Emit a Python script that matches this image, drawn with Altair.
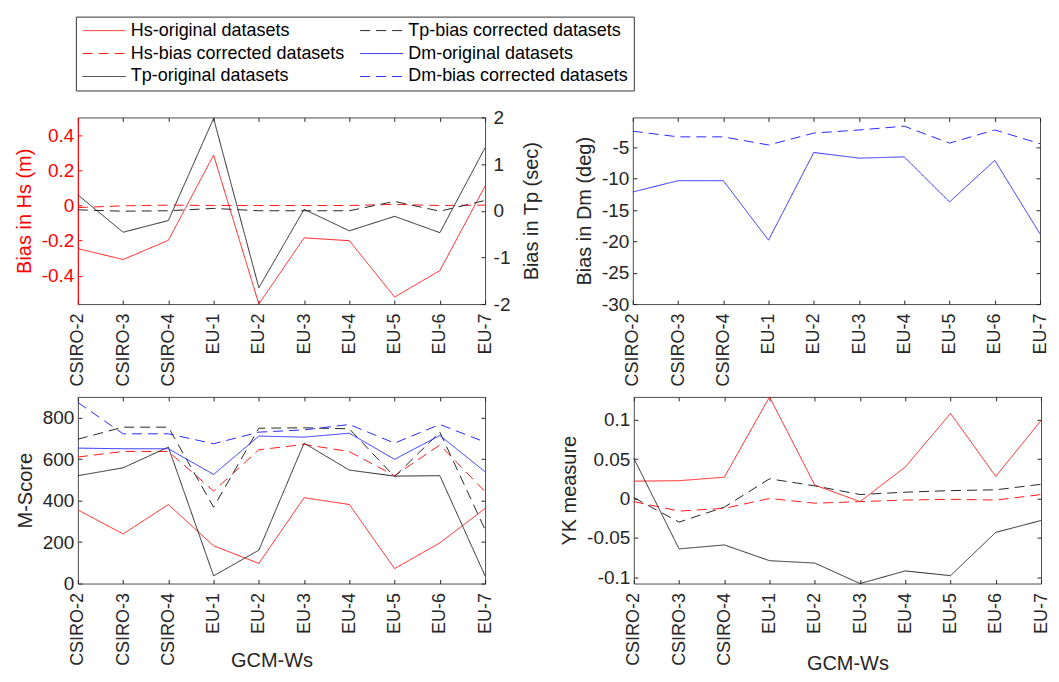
import altair as alt
import pandas as pd

# ---------------- data ----------------
gcms = ["CSIRO-2", "CSIRO-3", "CSIRO-4", "EU-1", "EU-2", "EU-3", "EU-4", "EU-5", "EU-6", "EU-7"]

HS_O = "Hs-original datasets"
HS_C = "Hs-bias corrected datasets"
TP_O = "Tp-original datasets"
TP_C = "Tp-bias corrected datasets"
DM_O = "Dm-original datasets"
DM_C = "Dm-bias corrected datasets"

# legend order (filled column by column, 2 columns)
legend_order = [HS_O, HS_C, TP_O, TP_C, DM_O, DM_C]
legend_colors = ["#ff1a1a", "#ff1a1a", "#262626", "#262626", "#2a2aff", "#2a2aff"]
legend_dashes = [[1, 0], [10, 6], [1, 0], [10, 6], [1, 0], [10, 6]]

# Panel 1: bias in Hs (m) and Tp (sec)
bias_hs_orig = [-0.245, -0.307, -0.198, 0.286, -0.56, -0.184, -0.20, -0.52, -0.37, 0.11]
bias_hs_corr = [-0.012, -0.002, 0.002, 0.0, 0.0, 0.0, 0.0, 0.006, 0.0, 0.002]
bias_tp_orig = [0.34, -0.46, -0.21, 1.98, -1.65, 0.03, -0.43, -0.12, -0.47, 1.35]
bias_tp_corr = [0.02, -0.01, 0.0, 0.05, 0.0, 0.0, 0.0, 0.2, -0.01, 0.22]

# Panel 2: bias in Dm (deg)
bias_dm_orig = [-12.1, -10.3, -10.3, -19.8, -5.8, -6.7, -6.5, -13.7, -7.05, -18.8]
bias_dm_corr = [-2.4, -3.3, -3.3, -4.6, -2.7, -2.2, -1.6, -4.3, -2.2, -4.4]

# Panel 3: M-Score
m_hs_orig = [355, 239, 381, 182, 97, 414, 381, 72, 196, 362]
m_hs_corr = [610, 637, 637, 446, 645, 671, 636, 520, 668, 443]
m_tp_orig = [520, 558, 658, 37, 161, 677, 547, 518, 520, 37]
m_tp_corr = [696, 754, 754, 368, 749, 751, 746, 515, 730, 260]
m_dm_orig = [653, 650, 650, 526, 711, 706, 725, 599, 714, 539]
m_dm_corr = [873, 722, 722, 674, 730, 741, 767, 677, 767, 682]

# Panel 4: YK measure
yk_hs_orig = [0.022, 0.0226, 0.027, 0.129, 0.017, -0.004, 0.040, 0.108, 0.028, 0.099]
yk_hs_corr = [-0.004, -0.016, -0.0125, 0.0, -0.006, -0.004, -0.002, -0.001, -0.002, 0.005]
yk_tp_orig = [0.051, -0.064, -0.059, -0.079, -0.082, -0.108, -0.092, -0.098, -0.043, -0.028]
yk_tp_corr = [0.001, -0.030, -0.011, 0.025, 0.016, 0.005, 0.008, 0.010, 0.011, 0.018]

hs_ticks = [-0.4, -0.2, 0, 0.2, 0.4]
tp_ticks = [-2, -1, 0, 1, 2]
dm_ticks = [-30, -25, -20, -15, -10, -5]
m_ticks = [0, 200, 400, 600, 800]
yk_ticks = [-0.1, -0.05, 0, 0.05, 0.1]


def long_df(pairs):
    rows = []
    for name, vals in pairs:
        for g, v in zip(gcms, vals):
            rows.append({"gcm": g, "series": name, "value": v})
    return pd.DataFrame(rows)


# ---------------- style ----------------
FONT = "Liberation Sans"
TXT = "#262626"
RED = "#ff0000"
W, H = 408, 187
YFS = 19  # y tick label size

xscale = alt.Scale(type="point", padding=0, domain=gcms)

legend_def = alt.Legend(
    title=None, orient="none", legendX=-2, legendY=-101, columns=2,
    symbolType="M-1,0H5", symbolSize=205, symbolStrokeWidth=1,
    labelFont=FONT, labelFontSize=18, labelColor="#000000", labelOffset=32, labelLimit=400,
    rowPadding=5, columnPadding=12, padding=5,
    strokeColor="#333333", fillColor="#ffffff", cornerRadius=0,
)
color_enc = alt.Color("series:N", scale=alt.Scale(domain=legend_order, range=legend_colors), legend=legend_def)
dash_enc = alt.StrokeDash("series:N", scale=alt.Scale(domain=legend_order, range=legend_dashes), legend=legend_def)


def x_bottom(with_title=False, tx=0, ty=0):
    kw = dict(orient="bottom", labelAngle=270, labelFont=FONT, labelFontSize=18, labelColor=TXT,
              labelPadding=9, labelOverlap=False, ticks=True, tickSize=4, tickColor=TXT, offset=-4,
              domain=False, grid=False)
    if with_title:
        kw.update(titleFont=FONT, titleFontSize=20, titleFontWeight="normal", titleColor=TXT,
                  titleX=tx, titleY=ty, titleAlign="center", titleBaseline="alphabetic")
    return alt.Axis(**kw)


x_top = alt.Axis(orient="top", labels=False, ticks=True, tickSize=4, tickColor=TXT, offset=-4,
                 domain=False, grid=False)


def y_left(values, fmt, color=TXT):
    return alt.Axis(orient="left", values=values, format=fmt, labelFont=FONT, labelFontSize=YFS,
                    labelColor=color, labelPadding=4, tickSize=4, tickColor=color, offset=-4,
                    domain=False, grid=False, titleFont=FONT, titleFontSize=20,
                    titleFontWeight="normal", titleColor=color, titlePadding=7)


def y_right_frame(values):
    return alt.Axis(orient="right", values=values, labels=False, ticks=True, tickSize=4, tickColor=TXT,
                    offset=-4, domain=False, grid=False)


# ---------------- top-left: Hs / Tp bias ----------------
hs_df = long_df([(HS_O, bias_hs_orig), (HS_C, bias_hs_corr)])
tp_df = long_df([(TP_O, bias_tp_orig), (TP_C, bias_tp_corr)])
hs_scale = alt.Scale(domain=[-0.56, 0.5], nice=False, zero=False)
tp_scale = alt.Scale(domain=[-2, 2], nice=False, zero=False)

tl_hs = alt.Chart(hs_df).mark_line(strokeWidth=1).encode(
    x=alt.X("gcm:N", scale=xscale, axis=x_bottom(), title=None),
    y=alt.Y("value:Q", scale=hs_scale, title="Bias in Hs (m)", axis=y_left(hs_ticks, ".1~f", RED)),
    color=color_enc, strokeDash=dash_enc,
)
tl_tp = alt.Chart(tp_df).mark_line(strokeWidth=1).encode(
    x=alt.X("gcm:N", scale=xscale, axis=None),
    y=alt.Y("value:Q", scale=tp_scale, title="Bias in Tp (sec)",
            axis=alt.Axis(orient="right", values=tp_ticks, format="d", labelFont=FONT, labelFontSize=YFS,
                          labelColor=TXT, labelPadding=8, tickSize=4, tickColor=TXT, offset=-4,
                          domain=False, grid=False, titleFont=FONT, titleFontSize=20,
                          titleFontWeight="normal", titleColor=TXT, titleAngle=270,
                          titleBaseline="top", titlePadding=12)),
    color=color_enc, strokeDash=dash_enc,
)
tl_frame = alt.Chart(hs_df).mark_point(opacity=0).encode(
    x=alt.X("gcm:N", scale=xscale, axis=x_top, title=None),
    y=alt.Y("value:Q", scale=hs_scale, title=None,
            axis=alt.Axis(orient="left", labels=False, ticks=False, domain=True, domainColor=RED,
                          domainWidth=1, grid=False)),
)
tl = alt.layer(tl_hs, tl_tp, tl_frame).resolve_scale(y="independent").resolve_axis(
    x="independent", y="independent").properties(width=W, height=H)


def panel(df, ydom, yvals, yfmt, ytitle, xtitle=None, tx=0, ty=0):
    ysc = alt.Scale(domain=ydom, nice=False, zero=False)
    lines = alt.Chart(df).mark_line(strokeWidth=1).encode(
        x=alt.X("gcm:N", scale=xscale, axis=x_bottom(xtitle is not None, tx, ty), title=xtitle),
        y=alt.Y("value:Q", scale=ysc, title=ytitle, axis=y_left(yvals, yfmt)),
        color=color_enc, strokeDash=dash_enc,
    )
    frame = alt.Chart(df).mark_point(opacity=0).encode(
        x=alt.X("gcm:N", scale=xscale, axis=x_top, title=None),
        y=alt.Y("value:Q", scale=ysc, title=None, axis=y_right_frame(yvals)),
    )
    return alt.layer(lines, frame).resolve_axis(x="independent", y="independent").properties(
        width=W, height=H)


tr = panel(long_df([(DM_O, bias_dm_orig), (DM_C, bias_dm_corr)]),
           [-30, -0.2], dm_ticks, "d", "Bias in Dm (deg)")
bl = panel(long_df([(HS_O, m_hs_orig), (HS_C, m_hs_corr), (TP_O, m_tp_orig),
                    (TP_C, m_tp_corr), (DM_O, m_dm_orig), (DM_C, m_dm_corr)]),
           [0, 900], m_ticks, "d", "M-Score", "GCM-Ws", 194, 87)
br = panel(long_df([(HS_O, yk_hs_orig), (HS_C, yk_hs_corr), (TP_O, yk_tp_orig), (TP_C, yk_tp_corr)]),
           [-0.108, 0.129], yk_ticks, ".2~f", "YK measure", "GCM-Ws", 214, 90)

top = alt.hconcat(tl, tr, spacing=148, bounds="flush")
bottom = alt.hconcat(bl, br, spacing=149, bounds="flush")
chart = alt.vconcat(top, bottom, spacing=6).properties(
    padding={"left": 5, "top": 7, "right": 0, "bottom": 0})

chart = chart.configure(
    locale={"number": {"decimal": ".", "thousands": ",", "grouping": [3],
                       "currency": ["", ""], "minus": "-"}}
).configure_view(stroke="#4d4d4d", strokeWidth=1)

chart.save("out.html", embed_options={"renderer": "svg", "actions": False})
